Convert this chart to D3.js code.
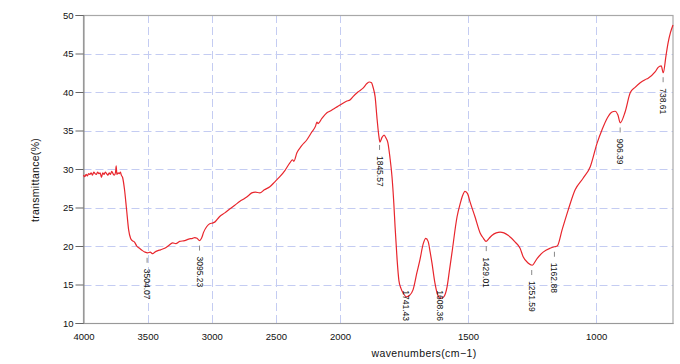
<!DOCTYPE html>
<html><head><meta charset="utf-8">
<script src="https://cdn.jsdelivr.net/npm/d3@7"></script>
<style>
body{margin:0;background:#fff;}
svg{display:block;font-family:"Liberation Sans",Arial,sans-serif;}
</style></head>
<body>
<svg id="chart" width="680" height="364"></svg>
<script>
// ---- data ----
const wavenumbers = [4000,3990,3980,3970,3960,3950,3940,3930,3920,3910,3900,3890,3880,3870,3860,3850,3840,3830,3820,3810,3800,3790,3780,3770,3760,3750,3745,3740,3730,3720,3712,3705,3695,3680,3664,3648,3633,3620,3602,3585,3563,3540,3520,3500,3480,3460,3445,3420,3400,3367,3340,3305,3280,3250,3211,3180,3150,3133,3115,3095,3080,3063,3040,3016,2990,2977,2940,2898,2860,2820,2780,2742,2710,2688,2660,2625,2590,2547,2510,2469,2430,2391,2370,2360,2336,2300,2258,2220,2190,2180,2172,2140,2102,2080,2050,2020,2000,1975,1960,1949,1930,1910,1895,1885,1877,1870,1863,1855,1848,1844,1836,1828,1820,1813,1805,1797,1790,1785,1777,1770,1762,1752,1740,1728,1715,1700,1688,1675,1665,1656,1648,1641,1630,1621,1608,1595,1582,1572,1563,1543,1530,1523,1512,1502,1492,1473,1453,1440,1430,1418,1406,1390,1375,1360,1344,1316,1297,1285,1266,1250,1230,1207,1180,1163,1152,1133,1109,1082,1051,1023,996,977,957,938,926,915,906,887,867,848,828,809,797,770,758,746,738,727,719,710,700];
const transmittance = [29.2,29.0,29.3,29.1,29.4,29.3,29.5,29.2,29.6,29.4,29.3,29.6,29.4,29.5,28.9,29.5,29.3,29.6,29.4,29.2,29.5,29.3,29.7,29.4,29.2,29.6,30.4,29.3,29.5,29.4,29.6,29.2,28.9,27.3,24.7,22.1,21.0,20.7,20.5,20.0,19.7,19.4,19.2,19.1,19.2,19.0,19.2,19.4,19.5,19.7,20.0,20.4,20.3,20.6,20.7,20.9,21.0,21.1,21.0,20.7,21.0,21.8,22.5,22.9,23.0,23.1,23.8,24.3,24.8,25.3,25.8,26.2,26.6,26.9,27.0,26.9,27.3,27.7,28.3,29.0,29.8,30.8,31.2,31.0,32.1,33.0,33.8,34.8,35.6,36.1,35.9,36.6,37.3,37.5,37.8,38.1,38.3,38.8,39.0,39.4,40.0,40.5,41.1,41.3,41.2,40.5,39.4,36.4,34.2,33.5,34.1,34.4,34.0,33.4,31.5,29.0,25.6,22.5,18.2,15.5,14.5,13.8,13.4,13.6,14.3,16.5,18.2,20.3,21.0,20.6,19.2,17.8,15.3,13.9,13.2,13.4,14.7,17.0,19.1,23.8,25.6,26.4,27.1,26.8,25.7,23.8,21.7,21.0,20.6,21.0,21.4,21.7,21.8,21.7,21.4,20.5,19.7,18.6,17.8,17.5,18.4,19.2,19.7,19.9,20.0,22.1,24.7,27.3,28.8,30.3,33.4,35.1,36.6,37.4,37.5,37.0,36.0,37.4,39.9,40.6,41.2,41.6,41.8,42.6,43.2,43.4,42.5,44.8,46.4,47.7,48.7];
const peakLabels = ["3504.07","3095.23","1845.57","1741.43","1608.36","1429.01","1251.59","1162.88","906.39","738.61"];
const peakWavenumbers = [3504.07,3095.23,1845.57,1741.43,1608.36,1429.01,1251.59,1162.88,906.39,738.61];
const xTicks = [4000,3500,3000,2500,2000,1500,1000];
const yTicks = [10,15,20,25,30,35,40,45,50];
const xTitle = "wavenumbers(cm\u22121)";
const yTitle = "transmittance(%)";

// ---- layout ----
const L = 83.5, R = 673, T = 15, B = 323;
const svg = d3.select("#chart");
const x = d3.scaleLinear().domain([4000, 2000, 700]).range([L, 340, R]);
const y = d3.scaleLinear().domain([10, 50]).range([B, T]);

// grid
const grid = svg.append("g").attr("stroke", "#c4ccf2").attr("stroke-width", 1).attr("stroke-dasharray", "8,4");
grid.selectAll("line.v").data(xTicks.filter(d => d !== 4000)).join("line")
  .attr("x1", d => Math.round(x(d)) + 0.5).attr("x2", d => Math.round(x(d)) + 0.5).attr("y1", T).attr("y2", B);
grid.selectAll("line.h").data(yTicks.filter(d => d !== 10 && d !== 50)).join("line")
  .attr("x1", L).attr("x2", R).attr("y1", d => Math.round(y(d)) + 0.5).attr("y2", d => Math.round(y(d)) + 0.5);

// frame
svg.append("rect").attr("x", L).attr("y", T + 0.5).attr("width", R - L).attr("height", B - T)
  .attr("fill", "none").attr("stroke", "#a8a8a8").attr("stroke-width", 1.2);

// axes
const yAxis = d3.axisLeft(y).tickValues(yTicks).tickSize(8).tickPadding(2).tickFormat(d3.format("d"));
const gy = svg.append("g").attr("transform", `translate(${L},0)`).call(yAxis);
gy.select(".domain").attr("stroke", "#888");
gy.selectAll(".tick line").attr("stroke", "#666");
gy.selectAll("text").attr("font-size", 9.5).attr("fill", "#111");

const xAxis = d3.axisBottom(x).tickValues(xTicks).tickSize(0).tickPadding(10).tickFormat(d3.format("d"));
const gx = svg.append("g").attr("transform", `translate(0,${B})`).call(xAxis);
gx.select(".domain").attr("stroke", "#999");
gx.selectAll("text").attr("font-size", 9.5).attr("fill", "#111");

// titles
svg.append("text").attr("x", 424).attr("y", 357).attr("text-anchor", "middle")
  .attr("font-size", 10.5).attr("letter-spacing", 0.4).attr("fill", "#111").text(xTitle);
svg.append("text").attr("transform", "translate(39,180) rotate(-90)").attr("text-anchor", "middle")
  .attr("font-size", 10.5).attr("letter-spacing", 0.3).attr("fill", "#111").text(yTitle);

// spectrum
const pts = wavenumbers.map((w, i) => [w, transmittance[i]]);
svg.append("path").datum(pts)
  .attr("fill", "none").attr("stroke", "#e8262d").attr("stroke-width", 1.2).attr("stroke-linejoin", "round")
  .attr("d", d3.line().x(d => x(d[0])).y(d => y(d[1])).curve(d3.curveMonotoneX));

// peak labels
const interp = w => {
  for (let i = 0; i < wavenumbers.length - 1; i++) {
    const a = wavenumbers[i], b = wavenumbers[i + 1];
    if (w <= a && w >= b) { const t = (a - w) / (a - b); return transmittance[i] + t * (transmittance[i + 1] - transmittance[i]); }
  }
  return transmittance[transmittance.length - 1];
};
const lg = svg.append("g");
peakWavenumbers.forEach((w, i) => {
  const px = x(w), py = y(interp(w));
  const t = lg.append("text").attr("font-size", 8.5).attr("fill", "#111").attr("dy", "0.35em").text(peakLabels[i]);
  const len = t.node().getComputedTextLength();
  const start = Math.min(py + 16, B - 2 - len);
  t.attr("transform", `translate(${px},${start}) rotate(90)`);
  if (start > py + 12) {
    lg.append("line").attr("x1", px).attr("x2", px).attr("y1", py + 5).attr("y2", py + 10)
      .attr("stroke", "#888").attr("stroke-width", 1);
  }
});
</script>
</body></html>
